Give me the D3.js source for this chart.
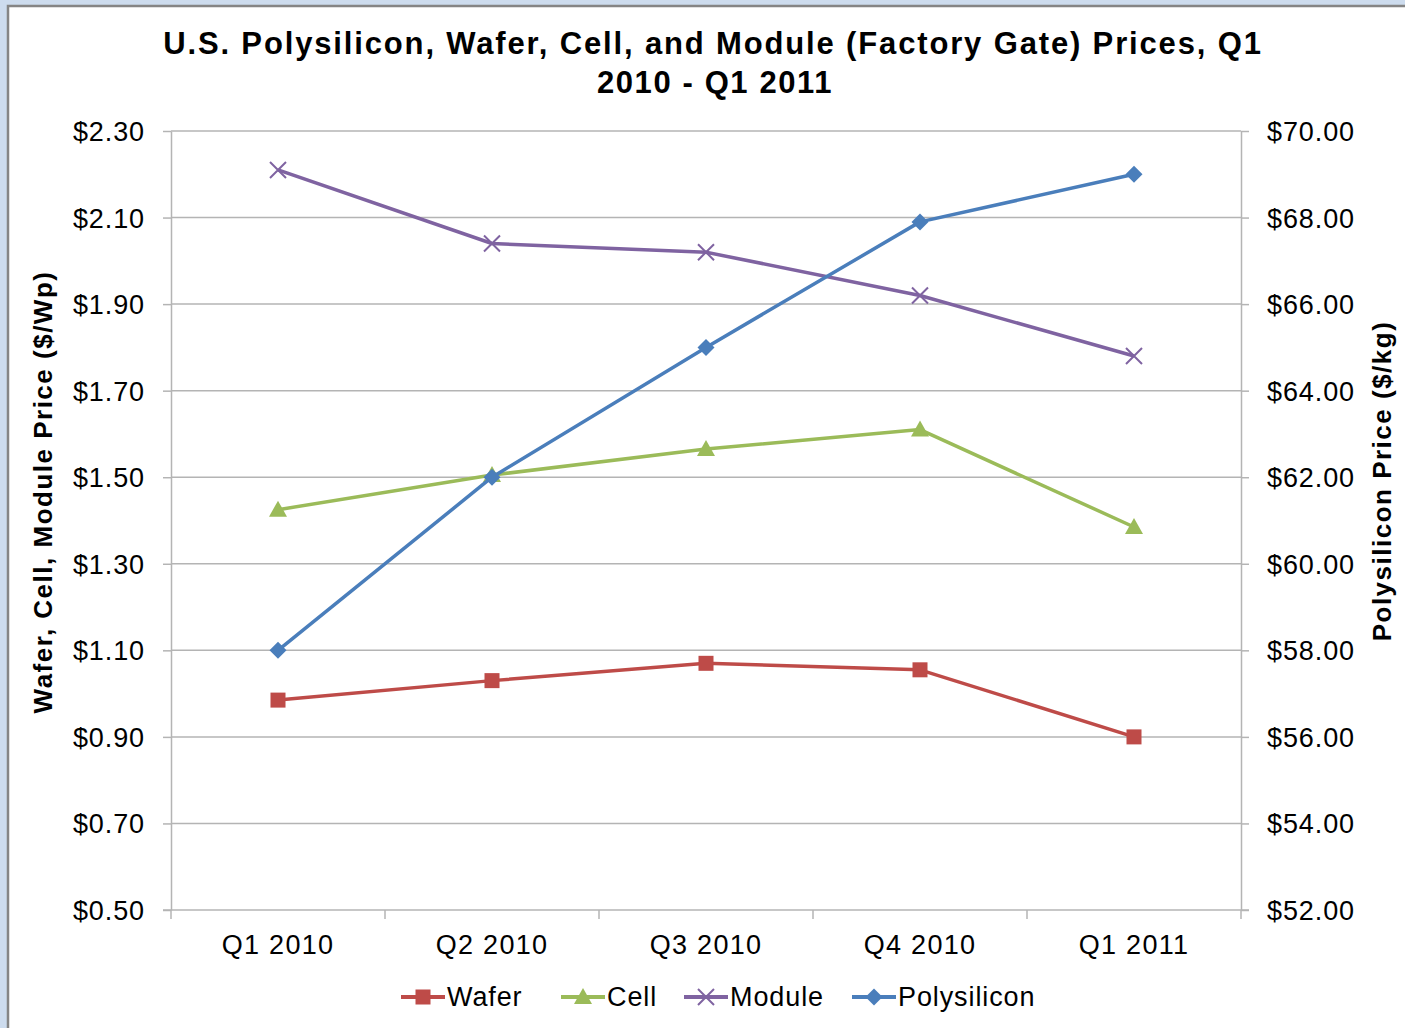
<!DOCTYPE html>
<html>
<head>
<meta charset="utf-8">
<script src="https://cdn.jsdelivr.net/npm/d3@7"></script>
<style>
  body { margin: 0; padding: 0; background: #cddcee; }
  svg { display: block; font-family: "Liberation Sans", Arial, sans-serif; }
  .grid line { stroke: #b4b4b4; stroke-width: 1.5; }
  .axis path, .axis line { stroke: #b4b4b4; stroke-width: 1.5; }
  .axis text { fill: #000; font-size: 27px; letter-spacing: 0.9px; }
</style>
</head>
<body>
<div id="chart"></div>
<script>
var quarters = ["Q1 2010", "Q2 2010", "Q3 2010", "Q4 2010", "Q1 2011"];
var wafer = [0.985, 1.03, 1.07, 1.055, 0.90];
var cell = [1.425, 1.505, 1.565, 1.61, 1.385];
var moduleP = [2.21, 2.04, 2.02, 1.92, 1.78];
var polysilicon = [58, 62, 65, 67.9, 69];
var leftTicks = [0.5, 0.7, 0.9, 1.1, 1.3, 1.5, 1.7, 1.9, 2.1, 2.3];
var rightTicks = [52, 54, 56, 58, 60, 62, 64, 66, 68, 70];

var W = 1405, H = 1028;
var margin = { top: 131, right: 164, bottom: 118, left: 171 },
    width = W - margin.left - margin.right,
    height = H - margin.top - margin.bottom;

var svg = d3.select("#chart").append("svg")
    .attr("width", W)
    .attr("height", H);

// chart frame (slide screenshot)
svg.append("rect")
    .attr("x", 8).attr("y", 6)
    .attr("width", W).attr("height", H)
    .attr("fill", "#fff")
    .attr("stroke", "#858585")
    .attr("stroke-width", 2.5);

svg.append("text")
    .attr("x", 713).attr("y", 54)
    .attr("text-anchor", "middle")
    .style("font-size", "31px").style("font-weight", "bold").style("letter-spacing", "1.85px")
    .text("U.S. Polysilicon, Wafer, Cell, and Module (Factory Gate) Prices, Q1");
svg.append("text")
    .attr("x", 715).attr("y", 93)
    .attr("text-anchor", "middle")
    .style("font-size", "31px").style("font-weight", "bold").style("letter-spacing", "1.6px")
    .text("2010 - Q1 2011");

var g = svg.append("g")
    .attr("transform", "translate(" + margin.left + "," + margin.top + ")");

var xScale = d3.scaleBand().domain(quarters).range([0, width]);
var yLeft = d3.scaleLinear().domain([0.5, 2.3]).range([height, 0]);
var yRight = d3.scaleLinear().domain([52, 70]).range([height, 0]);

// gridlines
g.append("g").attr("class", "grid")
    .selectAll("line")
    .data(leftTicks.slice(1))
    .enter().append("line")
    .attr("x1", 0).attr("x2", width)
    .attr("y1", function (d) { return yLeft(d); })
    .attr("y2", function (d) { return yLeft(d); });

var yAxisL = g.append("g").attr("class", "axis")
    .call(d3.axisLeft(yLeft).tickValues(leftTicks).tickSize(8).tickSizeOuter(0)
        .tickFormat(function (d) { return "$" + d3.format(".2f")(d); }));
yAxisL.selectAll("text").attr("x", -26).attr("dy", "0.35em");

var yAxisR = g.append("g").attr("class", "axis")
    .attr("transform", "translate(" + width + ",0)")
    .call(d3.axisRight(yRight).tickValues(rightTicks).tickSize(8).tickSizeOuter(0)
        .tickFormat(function (d) { return "$" + d3.format(".2f")(d); }));
yAxisR.selectAll("text").attr("x", 26).attr("dy", "0.35em");

// x axis: ticks at category boundaries
var xAxis = g.append("g").attr("class", "axis")
    .attr("transform", "translate(0," + height + ")");
xAxis.append("line")
    .attr("x1", -8).attr("x2", width + 8)
    .attr("y1", 0).attr("y2", 0);
xAxis.selectAll(".xtick")
    .data(quarters.concat(["end"]))
    .enter().append("line")
    .attr("class", "xtick")
    .attr("x1", function (d, i) { return i < quarters.length ? xScale(d) : width; })
    .attr("x2", function (d, i) { return i < quarters.length ? xScale(d) : width; })
    .attr("y1", 0).attr("y2", 9);
xAxis.selectAll(".xlabel")
    .data(quarters)
    .enter().append("text")
    .attr("x", function (d) { return xScale(d) + xScale.bandwidth() / 2; })
    .attr("y", 44)
    .attr("text-anchor", "middle")
    .style("letter-spacing", "1.3px")
    .text(function (d) { return d; });

// axis titles
svg.append("text")
    .attr("transform", "translate(52,492) rotate(-90)")
    .attr("text-anchor", "middle")
    .style("font-size", "26px").style("font-weight", "bold").style("letter-spacing", "1.5px")
    .text("Wafer, Cell, Module Price ($/Wp)");
svg.append("text")
    .attr("transform", "translate(1391,481) rotate(-90)")
    .attr("text-anchor", "middle")
    .style("font-size", "26px").style("font-weight", "bold").style("letter-spacing", "1.5px")
    .text("Polysilicon Price ($/kg)");

var series = [
    { name: "Wafer", values: wafer, scale: yLeft, color: "#be4b48", marker: "square" },
    { name: "Cell", values: cell, scale: yLeft, color: "#9bbb59", marker: "triangle" },
    { name: "Module", values: moduleP, scale: yLeft, color: "#7f63a1", marker: "x" },
    { name: "Polysilicon", values: polysilicon, scale: yRight, color: "#4a7ebb", marker: "diamond" }
];

function drawMarker(sel, type, color) {
    if (type === "square") {
        sel.append("rect").attr("x", -7.5).attr("y", -7.5).attr("width", 15).attr("height", 15)
            .attr("fill", color);
    } else if (type === "triangle") {
        sel.append("path").attr("d", "M0,-9L9,7L-9,7Z").attr("fill", color);
    } else if (type === "x") {
        sel.append("path").attr("d", "M-8,-8L8,8M-8,8L8,-8")
            .attr("stroke", color).attr("stroke-width", 2).attr("fill", "none");
    } else {
        sel.append("path").attr("d", "M0,-8.5L8.5,0L0,8.5L-8.5,0Z").attr("fill", color);
    }
}

series.forEach(function (s) {
    var line = d3.line()
        .x(function (d, i) { return xScale(quarters[i]) + xScale.bandwidth() / 2; })
        .y(function (d) { return s.scale(d); });
    g.append("path")
        .datum(s.values)
        .attr("fill", "none")
        .attr("stroke", s.color)
        .attr("stroke-width", 3.5)
        .attr("stroke-linejoin", "round")
        .attr("d", line);
    s.values.forEach(function (v, i) {
        var m = g.append("g")
            .attr("transform", "translate(" + (xScale(quarters[i]) + xScale.bandwidth() / 2) + "," + s.scale(v) + ")");
        drawMarker(m, s.marker, s.color);
    });
});

// legend
var legendX = [401, 561, 684, 852];
series.forEach(function (s, i) {
    var lg = svg.append("g").attr("transform", "translate(" + legendX[i] + ",997)");
    lg.append("line").attr("x1", 0).attr("x2", 44).attr("y1", 0).attr("y2", 0)
        .attr("stroke", s.color).attr("stroke-width", 4);
    var m = lg.append("g").attr("transform", "translate(22,0)");
    drawMarker(m, s.marker, s.color);
    lg.append("text").attr("x", 46).attr("y", 0).attr("dy", "0.35em")
        .style("font-size", "27px").style("letter-spacing", "0.9px")
        .text(s.name);
});
</script>
</body>
</html>
